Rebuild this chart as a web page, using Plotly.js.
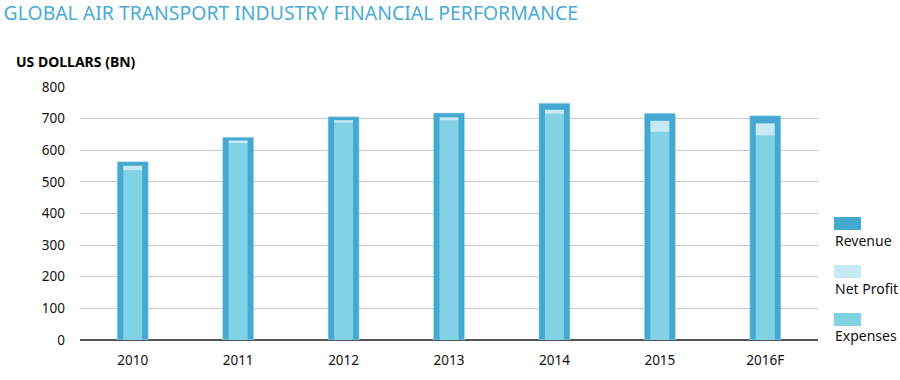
<!DOCTYPE html>
<html>
<head>
<meta charset="utf-8">
<script src="https://cdn.plot.ly/plotly-3.0.1.min.js"></script>
<style>html,body{margin:0;padding:0;background:#fff;}#chart{width:900px;height:380px;}</style>
</head>
<body>
<div id="chart"></div>
<script>
// Data (US$ bn)
const years = ["2010", "2011", "2012", "2013", "2014", "2015", "2016F"];
const revenue = [564, 641, 706, 718, 749, 717, 709];
const expenses = [536, 622, 687, 694, 715, 658, 646];
const netProfit = [15, 9, 8, 10, 13, 35, 39];
const yTicks = [0, 100, 200, 300, 400, 500, 600, 700, 800];
const legendNames = ["Revenue", "Net Profit", "Expenses"];

const colRevenue = "#45a8d1";
const colExpenses = "#82d2e6";
const colProfit = "#c6eaf3";

const W = 900, H = 380;
const mL = 80, mR = 82, mT = 87, mB = 40;
const pw = W - mL - mR, ph = H - mT - mB;
const px = x => (x - mL) / pw;
const py = y => (H - mB - y) / ph;

const traces = [
  {type: "bar", x: years, y: revenue, name: "Revenue", width: years.map(() => 0.295),
   marker: {color: colRevenue, line: {color: "#b6e2f1", width: 0.6}}, hoverinfo: "y+name"},
  {type: "bar", x: years, y: expenses, name: "Expenses", width: years.map(() => 0.18),
   marker: {color: colExpenses, line: {width: 0}}, hoverinfo: "y+name"},
  {type: "bar", x: years, y: netProfit, base: expenses, name: "Net Profit", width: years.map(() => 0.18),
   marker: {color: colProfit, line: {width: 0}}, hoverinfo: "y+name"}
];

const legendCols = [colRevenue, colProfit, colExpenses];
const swatchTop = [217, 265, 313];
const textMid = [240, 288, 335];
const shapes = [];
const annotations = [];
legendNames.forEach((n, i) => {
  shapes.push({type: "rect", xref: "paper", yref: "paper",
    x0: px(834), x1: px(861), y0: py(swatchTop[i] + 13), y1: py(swatchTop[i]),
    fillcolor: legendCols[i], line: {width: 0}});
  annotations.push({xref: "paper", yref: "paper", x: px(833), y: py(textMid[i]),
    xanchor: "left", yanchor: "middle", showarrow: false, text: n,
    font: {family: "Noto Sans, Open Sans, sans-serif", size: 14, color: "#111"}});
});
annotations.push({xref: "paper", yref: "paper", x: px(14), y: py(62),
  xanchor: "left", yanchor: "middle", showarrow: false, text: "<b>US DOLLARS (BN)</b>",
  font: {family: "Noto Sans, Open Sans, sans-serif", size: 14, color: "#000"}});

const layout = {
  width: W, height: H,
  margin: {l: mL, r: mR, t: mT, b: mB},
  paper_bgcolor: "#fff", plot_bgcolor: "#fff",
  barmode: "overlay",
  showlegend: false,
  title: {text: "GLOBAL AIR TRANSPORT INDUSTRY FINANCIAL PERFORMANCE",
    xref: "container", x: 0.004, xanchor: "left", yref: "container", y: 0.966, yanchor: "middle",
    font: {family: "Noto Sans, Open Sans, sans-serif", size: 19.4, color: "#4aabd6"}},
  xaxis: {type: "category", showgrid: false, zeroline: false, showline: false,
    ticks: "", tickfont: {family: "Noto Sans, Open Sans, sans-serif", size: 13.5, color: "#111"},
    ticklabelstandoff: 10},
  yaxis: {range: [0, 800], tickvals: yTicks, ticktext: yTicks.map(String),
    showgrid: true, gridcolor: "#c9c9c9", gridwidth: 1.2,
    zeroline: true, zerolinecolor: "#555", zerolinewidth: 1.3,
    showline: false, ticks: "", ticklabelstandoff: 14,
    tickfont: {family: "Noto Sans, Open Sans, sans-serif", size: 13.5, color: "#111"}},
  shapes: shapes,
  annotations: annotations
};

Plotly.newPlot("chart", traces, layout, {displayModeBar: false, staticPlot: true});
</script>
</body>
</html>
